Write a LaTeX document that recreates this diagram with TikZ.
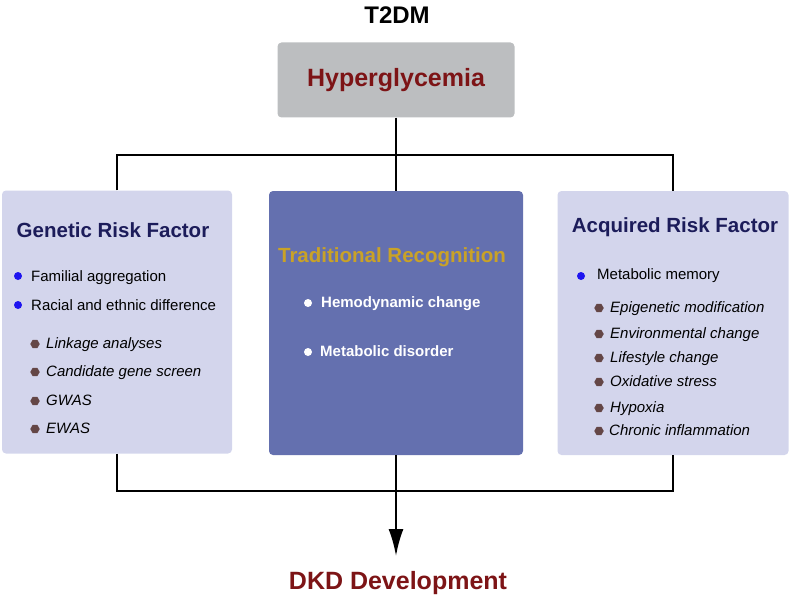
\documentclass[tikz,border=0pt]{standalone}
\usepackage{fontspec}
\setmainfont{Liberation Sans}
\usepackage{xcolor}
\usepackage{tikz}
\usetikzlibrary{arrows.meta,shapes.geometric,calc,positioning}
\definecolor{hypergrey}{RGB}{188,190,192}
\definecolor{darkred}{RGB}{125,20,22}
\definecolor{riskfill}{RGB}{211,213,236}
\definecolor{tradfill}{RGB}{100,112,175}
\definecolor{navytext}{RGB}{28,28,90}
\definecolor{goldtext}{RGB}{201,162,39}
\definecolor{dotblue}{RGB}{30,20,240}
\definecolor{dotbrown}{RGB}{100,70,70}
\tikzset{box/.style={draw=none, rounded corners=4pt, inner sep=0pt},
item/.style={anchor=west, inner sep=0pt, font=\fontsize{15}{18}\selectfont, text height=11pt, text depth=3pt},
subitem/.style={item, font=\fontsize{15}{18}\selectfont\itshape},
dot/.style={circle, fill=dotblue, draw=none, inner sep=0pt, minimum size=8pt},
subdot/.style={regular polygon, regular polygon sides=6, fill=dotbrown, draw=none, inner sep=0pt, minimum size=9.5pt},
heading/.style={inner sep=0pt, font=\fontsize{20.5}{24}\selectfont\bfseries},
link/.style={draw=black, line width=2.2pt}}

\begin{document}
\begin{tikzpicture}[x=1pt, y=-1pt, >=latex]

    \useasboundingbox (0,0) rectangle (790,599);

% the top

    \node[inner sep=0pt, font=\fontsize{24}{28}\selectfont\bfseries] (t2dm) at (397,15) {T2DM};
    \node[box, fill=hypergrey, minimum width=237pt, minimum height=75pt, text=darkred,
    font=\fontsize{25}{30}\selectfont\bfseries] (hyper) at (396,80) {Hyperglycemia};

% the three boxes

    \node[box, fill=riskfill, minimum width=230pt, minimum height=263pt] (genetic) at (117,322) {};
    \node[box, fill=tradfill, minimum width=254pt, minimum height=264pt] (trad) at (396,323) {};
    \node[box, fill=riskfill, minimum width=231pt, minimum height=264pt] (acquired) at (673,323) {};

% the links

    \coordinate (topbar) at (hyper.south |- 0,155);
    \coordinate (botbar) at (trad.south |- 0,491);
    \coordinate (tip) at (trad.south |- 0,556);
    \draw[link] (hyper.south) -- (topbar);
    \draw[link] (genetic.north) |- (topbar) -| (acquired.north);
    \draw[link] (topbar) -- (trad.north);
    \draw[link] (genetic.south) |- (botbar) -| (acquired.south);
    \draw[link, -{Latex[length=27pt,width=15pt]}] (trad.south) -- (tip);

    \node[inner sep=0pt, text=darkred, font=\fontsize{25}{30}\selectfont\bfseries] (dkd) at (398,583) {DKD Development};

% genetic risk factor

    \node[heading, text=navytext] (gen_h) at (113,230) {Genetic Risk Factor};
    \node[dot] (gen_d0) at (18,276) {};
    \node[item] (gen_0) at (31,277) {Familial aggregation};
    \node[dot] (gen_d1) at (18,305) {};
    \node[item] (gen_1) at (31,306) {Racial and ethnic difference};
    \node[subdot] (gen_s0) at (35,344) {};
    \node[subitem] (gen_2) at (46,344) {Linkage analyses};
    \node[subdot] (gen_s1) at (35,372) {};
    \node[subitem] (gen_3) at (46,372) {Candidate gene screen};
    \node[subdot] (gen_s2) at (35,401) {};
    \node[subitem] (gen_4) at (46,401) {GWAS};
    \node[subdot] (gen_s3) at (35,429) {};
    \node[subitem] (gen_5) at (46,429) {EWAS};

% traditional recognition

    \node[heading, text=goldtext] (trad_h) at (392,257) {Traditional Recognition};
    \node[dot, fill=white] (trad_d0) at (308,303) {};
    \node[item, text=white, font=\fontsize{15}{18}\selectfont\bfseries] (trad_0) at (321,303) {Hemodynamic change};
    \node[dot, fill=white] (trad_d1) at (308,352) {};
    \node[item, text=white, font=\fontsize{15}{18}\selectfont\bfseries] (trad_1) at (320,352) {Metabolic disorder};

% acquired risk factor

    \node[heading, text=navytext] (acq_h) at (675,227) {Acquired Risk Factor};
    \node[dot] (acq_d0) at (581,276) {};
    \node[item] (acq_0) at (597,275) {Metabolic memory};
    \node[subdot] (acq_s0) at (599,308) {};
    \node[subitem] (acq_1) at (610,308) {Epigenetic modification};
    \node[subdot] (acq_s1) at (599,334) {};
    \node[subitem] (acq_2) at (610,334) {Environmental change};
    \node[subdot] (acq_s2) at (599,358) {};
    \node[subitem] (acq_3) at (610,358) {Lifestyle change};
    \node[subdot] (acq_s3) at (599,382) {};
    \node[subitem] (acq_4) at (610,382) {Oxidative stress};
    \node[subdot] (acq_s4) at (599,408) {};
    \node[subitem] (acq_5) at (610,408) {Hypoxia};
    \node[subdot] (acq_s5) at (599,431) {};
    \node[subitem] (acq_6) at (609,431) {Chronic inflammation};

\end{tikzpicture}
\end{document}
